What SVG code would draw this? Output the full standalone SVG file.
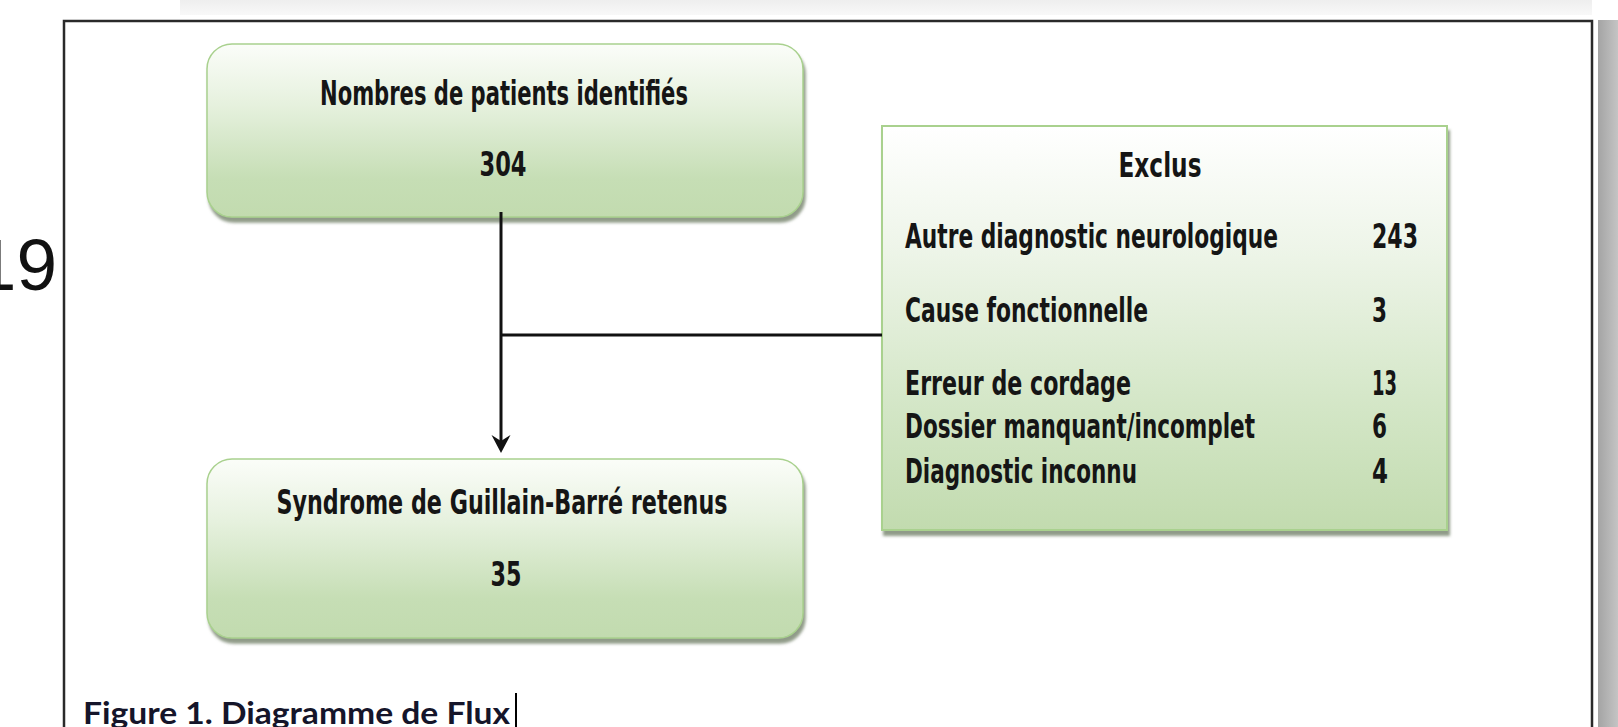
<svg xmlns="http://www.w3.org/2000/svg" width="1618" height="727" viewBox="0 0 1618 727">
  <defs>
    <linearGradient id="gBox" x1="0" y1="0" x2="0" y2="1">
      <stop offset="0" stop-color="#fbfdf9"/>
      <stop offset="0.35" stop-color="#e6f1de"/>
      <stop offset="0.78" stop-color="#c6deb5"/>
      <stop offset="1" stop-color="#c2dbaf"/>
    </linearGradient>
    <linearGradient id="gEx" x1="0" y1="0" x2="0" y2="1">
      <stop offset="0" stop-color="#ffffff"/>
      <stop offset="0.3" stop-color="#eef5e9"/>
      <stop offset="0.7" stop-color="#d3e6c6"/>
      <stop offset="1" stop-color="#c2dbaf"/>
    </linearGradient>
    <linearGradient id="gRight" x1="0" y1="0" x2="1" y2="0">
      <stop offset="0" stop-color="#a4a4a4"/>
      <stop offset="1" stop-color="#c4c4c4"/>
    </linearGradient>
    <linearGradient id="gTop" x1="0" y1="0" x2="0" y2="1">
      <stop offset="0" stop-color="#eeeeee"/>
      <stop offset="1" stop-color="#f8f8f8"/>
    </linearGradient>
    <filter id="shadow" x="-5%" y="-5%" width="112%" height="115%">
      <feGaussianBlur in="SourceAlpha" stdDeviation="1.5"/>
      <feOffset dx="2" dy="5" result="b"/>
      <feFlood flood-color="#7d8a74" flood-opacity="0.85"/>
      <feComposite in2="b" operator="in"/>
      <feMerge><feMergeNode/><feMergeNode in="SourceGraphic"/></feMerge>
    </filter>
    <marker id="arrow" markerUnits="userSpaceOnUse" markerWidth="20" markerHeight="20" viewBox="0 0 20 20" refX="11" refY="10" orient="auto">
      <path d="M18,10 L0,0.5 L6,10 L0,19.5 Z" fill="#111"/>
    </marker>
  </defs>
  <style>
    .box { font-family: "DejaVu Sans Condensed", "Liberation Sans Narrow", "DejaVu Sans", sans-serif; font-weight: bold; font-size: 34px; fill: #151515; }
    .ctr { text-anchor: middle; }
    .conn { stroke: #111; stroke-width: 3; fill: none; }
    .rbox { fill: url(#gBox); stroke: #a9d18e; stroke-width: 1.5; }
  </style>

  <rect x="0" y="0" width="1618" height="727" fill="#ffffff"/>
  <rect x="180" y="0" width="1412" height="15" fill="url(#gTop)"/>
  <rect x="1598" y="20" width="20" height="707" fill="url(#gRight)"/>
  <path d="M64,727 L64,21 L1592,21 L1592,727" fill="none" stroke="#2a2a2a" stroke-width="2.5"/>

  <text x="57" y="290" font-family="Liberation Sans, Arial, sans-serif" font-size="73" fill="#111" text-anchor="end">19</text>

  <g id="node-identifies">
    <rect class="rbox" x="207" y="44" width="596" height="173" rx="25" ry="25" filter="url(#shadow)"/>
    <g transform="scale(0.68,1)">
      <text class="box ctr" x="741.18" y="105" textLength="541.18" lengthAdjust="spacingAndGlyphs">Nombres de patients identifiés</text>
      <text class="box ctr" x="739.71" y="176" textLength="69.12" lengthAdjust="spacingAndGlyphs">304</text>
    </g>
  </g>

  <g id="node-retenus">
    <rect class="rbox" x="207" y="459" width="596" height="179" rx="25" ry="25" filter="url(#shadow)"/>
    <g transform="scale(0.68,1)">
      <text class="box ctr" x="738.24" y="514" textLength="663.24" lengthAdjust="spacingAndGlyphs">Syndrome de Guillain-Barré retenus</text>
      <text class="box ctr" x="744.12" y="586" textLength="45.59" lengthAdjust="spacingAndGlyphs">35</text>
    </g>
  </g>

  <g id="node-exclus">
    <rect x="882" y="126" width="565" height="404" fill="url(#gEx)" stroke="#a9d18e" stroke-width="2" filter="url(#shadow)"/>
    <g transform="scale(0.68,1)">
      <text class="box ctr" x="1705.88" y="177" textLength="122.06" lengthAdjust="spacingAndGlyphs">Exclus</text>
      <text class="box" x="1330.88" y="248" textLength="548.53" lengthAdjust="spacingAndGlyphs">Autre diagnostic neurologique</text>
      <text class="box" x="2017.65" y="248" textLength="67.65" lengthAdjust="spacingAndGlyphs">243</text>
      <text class="box" x="1330.88" y="322" textLength="357.35" lengthAdjust="spacingAndGlyphs">Cause fonctionnelle</text>
      <text class="box" x="2017.65" y="322" textLength="22.06" lengthAdjust="spacingAndGlyphs">3</text>
      <text class="box" x="1330.88" y="395" textLength="332.35" lengthAdjust="spacingAndGlyphs">Erreur de cordage</text>
      <text class="box" x="2017.65" y="395" textLength="36.76" lengthAdjust="spacingAndGlyphs">13</text>
      <text class="box" x="1330.88" y="438" textLength="514.71" lengthAdjust="spacingAndGlyphs">Dossier manquant/incomplet</text>
      <text class="box" x="2017.65" y="438" textLength="22.06" lengthAdjust="spacingAndGlyphs">6</text>
      <text class="box" x="1330.88" y="483" textLength="341.18" lengthAdjust="spacingAndGlyphs">Diagnostic inconnu</text>
      <text class="box" x="2017.65" y="483" textLength="23.53" lengthAdjust="spacingAndGlyphs">4</text>
    </g>
  </g>

  <g id="connectors">
    <line class="conn" x1="501" y1="212" x2="501" y2="446" marker-end="url(#arrow)"/>
    <line class="conn" x1="501" y1="335" x2="882" y2="335"/>
  </g>

  <g id="caption">
    <text x="83" y="724" font-family="Lato, Liberation Sans, Arial, sans-serif" font-weight="bold" font-size="31" fill="#15152a" textLength="427" lengthAdjust="spacingAndGlyphs">Figure 1. Diagramme de Flux</text>
    <line x1="516" y1="693" x2="516" y2="727" stroke="#000" stroke-width="2"/>
  </g>
</svg>
